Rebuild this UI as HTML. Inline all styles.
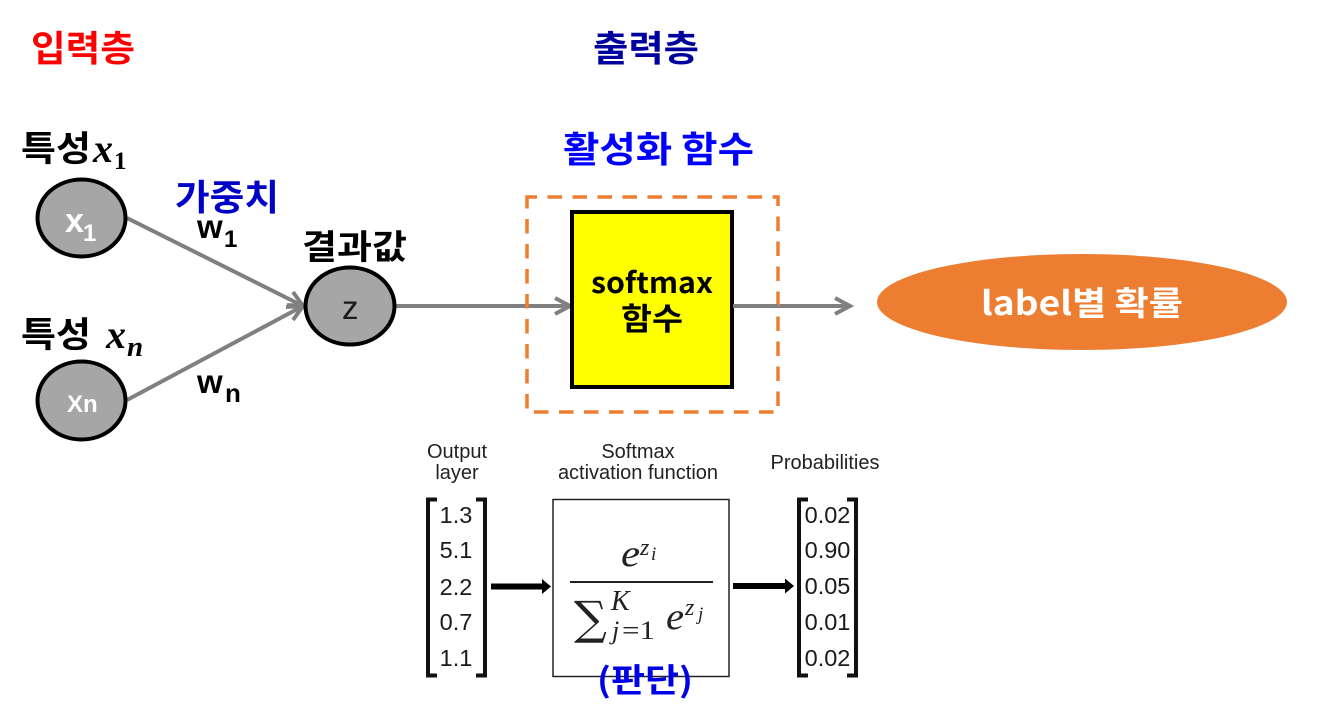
<!DOCTYPE html>
<html><head><meta charset="utf-8"><style>
html,body{margin:0;padding:0;background:#fff}
svg{display:block}
text{font-family:"Liberation Sans","Noto Sans CJK KR",sans-serif}
.k{font-family:"Noto Sans CJK KR","NanumGothic",sans-serif;font-weight:700}
.m{font-family:"Liberation Serif",serif;font-style:italic}
</style></head><body>
<svg width="1319" height="727" viewBox="0 0 1319 727" xmlns="http://www.w3.org/2000/svg">
<rect width="1319" height="727" fill="#fff"/>
<text class="k" x="31" y="61" font-size="36" fill="#f00" textLength="104" lengthAdjust="spacingAndGlyphs">입력층</text>
<text class="k" x="593" y="61" font-size="36" fill="#00009e" textLength="106" lengthAdjust="spacingAndGlyphs">출력층</text>
<text class="k" x="563" y="162" font-size="36" fill="#00f" textLength="191" lengthAdjust="spacingAndGlyphs">활성화 함수</text>
<text class="k" x="175" y="210" font-size="36" fill="#0000c8" textLength="104" lengthAdjust="spacingAndGlyphs">가중치</text>
<text class="k" x="21" y="161" font-size="35" fill="#000" textLength="70" lengthAdjust="spacingAndGlyphs">특성</text>
<text class="m" x="93" y="162" font-size="40" font-weight="700">x</text>
<text class="m" x="114" y="169" font-size="25" font-weight="700" style="font-style:normal">1</text>
<text class="k" x="21" y="347" font-size="35" fill="#000" textLength="70" lengthAdjust="spacingAndGlyphs">특성</text>
<text class="m" x="106" y="348" font-size="40" font-weight="700">x</text>
<text class="m" x="127" y="356" font-size="29" font-weight="700">n</text>
<text class="k" x="302" y="259" font-size="34" fill="#000" textLength="105" lengthAdjust="spacingAndGlyphs">결과값</text>

<g fill="none" stroke="#808080" stroke-width="4">
<path d="M127 218L303 306"/>
<path d="M127 400L303 306"/>
<path d="M396 306H570"/>
<path d="M733 306H849"/>
<path d="M286 307L303 306L293 292"/>
<path d="M287 305L303 306L293 320"/>
<path d="M555 298L570 306L555 314"/>
<path d="M835 298L850 306L835 314"/>
</g>
<g fill="#a6a6a6" stroke="#000" stroke-width="4">
<ellipse cx="81.500" cy="218" rx="44" ry="38.500"/>
<ellipse cx="81.500" cy="400.500" rx="44" ry="39"/>
<ellipse cx="350" cy="306" rx="44.500" ry="38.500"/>
</g>
<text x="65" y="232" font-size="34" font-weight="700" fill="#fff">x</text>
<text x="83" y="241" font-size="24" font-weight="700" fill="#fff">1</text>
<text x="67" y="412" font-size="24" font-weight="700" fill="#fff">Xn</text>
<text x="342" y="319" font-size="33" fill="#1a1a1a">z</text>
<text x="197" y="238" font-size="33" font-weight="700">w</text>
<text x="224" y="247" font-size="24" font-weight="700">1</text>
<text x="197" y="393" font-size="33" font-weight="700">w</text>
<text x="225" y="402" font-size="26" font-weight="700">n</text>

<rect x="527" y="197" width="251" height="215" fill="none" stroke="#ed7d31" stroke-width="3.500" stroke-dasharray="14.500 10.500" stroke-dashoffset="4.500"/>
<rect x="572" y="212" width="160" height="175" fill="#ff0" stroke="#000" stroke-width="4"/>
<path d="M733 306H778" stroke="#808080" stroke-width="4"/>
<text class="k" x="591" y="293" font-size="29" textLength="122" lengthAdjust="spacingAndGlyphs">softmax</text>
<text class="k" x="621" y="330" font-size="31" textLength="62" lengthAdjust="spacingAndGlyphs">함수</text>

<ellipse cx="1082" cy="302" rx="205" ry="48" fill="#ed7d31"/>
<text class="k" x="981" y="315" font-size="33" fill="#fff" textLength="202" lengthAdjust="spacingAndGlyphs">label별 확률</text>

<g font-size="20" text-anchor="middle" fill="#222">
<text x="457" y="458">Output</text>
<text x="457" y="479">layer</text>
<text x="638" y="458">Softmax</text>
<text x="638" y="479">activation function</text>
<text x="825" y="469">Probabilities</text>
</g>
<g font-size="23.500" fill="#1a1a1a" text-anchor="middle">
<text x="456" y="523">1.3</text>
<text x="456" y="558">5.1</text>
<text x="456" y="595">2.2</text>
<text x="456" y="630">0.7</text>
<text x="456" y="666">1.1</text>
<text x="827.500" y="523">0.02</text>
<text x="827.500" y="558">0.90</text>
<text x="827.500" y="594">0.05</text>
<text x="827.500" y="630">0.01</text>
<text x="827.500" y="666">0.02</text>
</g>
<g fill="none" stroke="#111" stroke-width="4">
<path d="M437 499.500H428V675.500H437"/>
<path d="M476 499.500H485V675.500H476"/>
<path d="M808 499.500H799V675.500H808"/>
<path d="M847 499.500H856V675.500H847"/>
</g>
<rect x="553" y="499.500" width="176" height="177" fill="none" stroke="#222" stroke-width="1.500"/>
<path d="M491 586.500H543" stroke="#000" stroke-width="6"/>
<path d="M542 579L551 586.500L542 594Z" fill="#000"/>
<path d="M733 586H786" stroke="#000" stroke-width="6"/>
<path d="M785 578.500L794 586L785 593.500Z" fill="#000"/>
<path d="M570 582H713" stroke="#222" stroke-width="2"/>
<text class="m" x="621" y="566" font-size="38" fill="#222" textLength="19" lengthAdjust="spacingAndGlyphs">e</text>
<text class="m" x="640" y="555" font-size="24" fill="#222">z</text>
<text class="m" x="651" y="560" font-size="19" fill="#222">i</text>
<text x="574" y="634" font-size="46" fill="#222" style="font-family:'DejaVu Serif',serif">∑</text>
<text class="m" x="611" y="610" font-size="28" fill="#222">K</text>
<text class="m" x="612" y="639" font-size="26" fill="#222">j</text>
<text x="622" y="639" font-size="26" fill="#222" style="font-family:'Liberation Serif',serif" textLength="33" lengthAdjust="spacingAndGlyphs">=1</text>
<text class="m" x="666" y="629" font-size="38" fill="#222" textLength="18" lengthAdjust="spacingAndGlyphs">e</text>
<text class="m" x="685" y="615" font-size="24" fill="#222">z</text>
<text class="m" x="698" y="620" font-size="19" fill="#222">j</text>
<text class="k" x="597" y="692" font-size="33" fill="#0000e6" textLength="96" lengthAdjust="spacingAndGlyphs">(판단)</text>
</svg>
</body></html>
